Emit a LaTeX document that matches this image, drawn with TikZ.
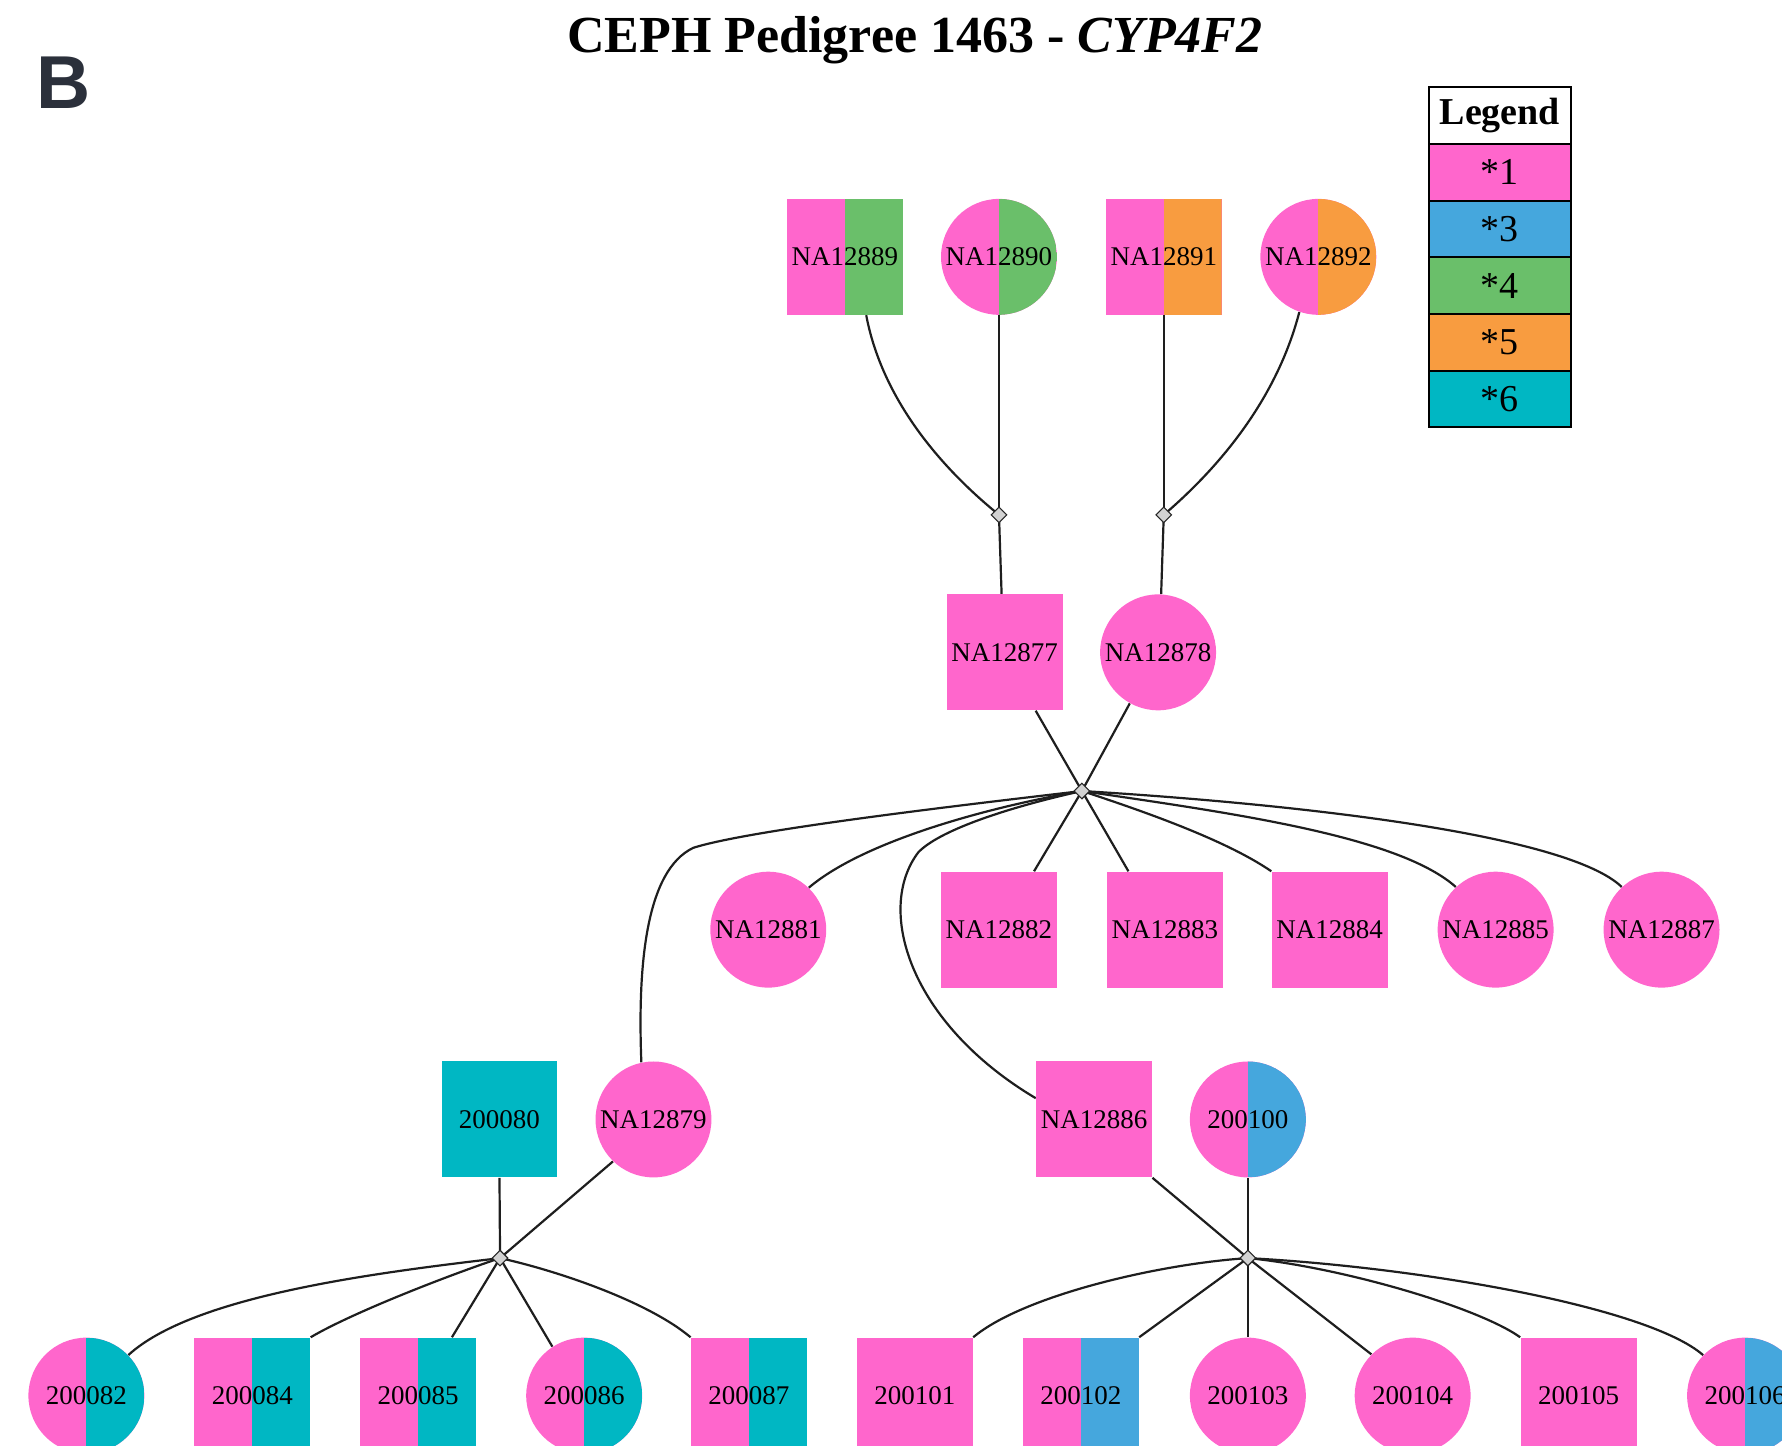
\documentclass[tikz,border=0pt]{standalone}
\usepackage{fontspec}
\setmainfont{Liberation Serif}
\newfontfamily\Bfont{Liberation Sans}
\usetikzlibrary{shapes.geometric}
\definecolor{pinkc}{HTML}{FF66CC}
\definecolor{bluec}{HTML}{45A7DD}
\definecolor{greenc}{HTML}{6ABF6A}
\definecolor{orangec}{HTML}{F89C40}
\definecolor{cyanc}{HTML}{00B7C3}
\definecolor{bcol}{HTML}{2B303B}
\definecolor{linec}{HTML}{1E1E1E}
\pgfdeclarelayer{bg}
\pgfsetlayers{bg,main}
\tikzset{
  lab/.style={font=\fontsize{13.5}{14}\selectfont, text=black, inner sep=0pt},
  sq/.style={lab, rectangle, minimum width=57.96pt, minimum height=57.96pt, fill=#1},
  ci/.style={lab, circle, minimum size=57.96pt, fill=#1},
  half/.style={path picture={\fill[#1] (path picture bounding box.south) rectangle (path picture bounding box.north east);}},
  dia/.style={diamond, draw=black!85, fill=gray!35, line width=0.55pt, inner sep=0pt, minimum width=8pt, minimum height=8pt},
  edge/.style={line width=1.1pt, draw=linec},
  leg/.style={rectangle, draw=black, line width=1pt, minimum width=70.8pt, minimum height=28.34pt, inner sep=0pt, font=\fontsize{19}{20}\selectfont, fill=#1},
}
\begin{document}
\begin{tikzpicture}[x=0.56825pt, y=-0.56825pt]
\useasboundingbox (0,0) rectangle (1568,1272);
\clip (0,0) rectangle (1568,1272);

% panel letter and title
\node[font=\Bfont\bfseries\fontsize{37.5}{37}\selectfont, text=bcol, inner sep=0pt] (panelB) at (56,73) {B};
\node[anchor=base, inner sep=0pt, font=\fontsize{26}{28}\selectfont] (title) at (805,46) {\textbf{CEPH Pedigree 1463 - \textit{CYP4F2}}};

% legend
\node[leg=white] (lg0) at (1319.7,101.75) {\textbf{Legend}};
\node[leg=pinkc] (lg1) at (1319.7,151.65) {*1};
\node[leg=bluec] (lg3) at (1319.7,201.5) {*3};
\node[leg=greenc] (lg4) at (1319.7,251.35) {*4};
\node[leg=orangec] (lg5) at (1319.7,301.25) {*5};
\node[leg=cyanc] (lg6) at (1319.7,351.1) {*6};

% generation 1
\node[sq=pinkc, half=greenc] (n12889) at (743.5,226) {NA12889};
\node[ci=pinkc, half=greenc] (n12890) at (879,226) {NA12890};
\node[sq=pinkc, half=orangec] (n12891) at (1024,226) {NA12891};
\node[ci=pinkc, half=orangec] (n12892) at (1160,226) {NA12892};
\node[dia] (d1) at (879,453) {};
\node[dia] (d2) at (1024,453) {};

% generation 2
\node[sq=pinkc] (n12877) at (884,574) {NA12877};
\node[ci=pinkc] (n12878) at (1019,574) {NA12878};
\node[dia] (d3) at (952,696) {};

% generation 3
\node[ci=pinkc] (n12881) at (676,818) {NA12881};
\node[sq=pinkc] (n12882) at (879,818) {NA12882};
\node[sq=pinkc] (n12883) at (1025,818) {NA12883};
\node[sq=pinkc] (n12884) at (1170,818) {NA12884};
\node[ci=pinkc] (n12885) at (1316,818) {NA12885};
\node[ci=pinkc] (n12887) at (1462,818) {NA12887};

\node[sq=cyanc] (n200080) at (439.5,985) {200080};
\node[ci=pinkc] (n12879) at (575,985) {NA12879};
\node[sq=pinkc] (n12886) at (962.7,985) {NA12886};
\node[ci=pinkc, half=bluec] (n200100) at (1098,985) {200100};
\node[dia] (d4) at (440,1107) {};
\node[dia] (d5) at (1098,1107) {};

% generation 4
\node[ci=pinkc, half=cyanc] (n200082) at (76,1228) {200082};
\node[sq=pinkc, half=cyanc] (n200084) at (222,1228) {200084};
\node[sq=pinkc, half=cyanc] (n200085) at (368,1228) {200085};
\node[ci=pinkc, half=cyanc] (n200086) at (514,1228) {200086};
\node[sq=pinkc, half=cyanc] (n200087) at (659,1228) {200087};
\node[sq=pinkc] (n200101) at (805,1228) {200101};
\node[sq=pinkc, half=bluec] (n200102) at (951,1228) {200102};
\node[ci=pinkc] (n200103) at (1098,1228) {200103};
\node[ci=pinkc] (n200104) at (1243,1228) {200104};
\node[sq=pinkc] (n200105) at (1389,1228) {200105};
\node[ci=pinkc, half=bluec] (n200106) at (1535.5,1228) {200106};

\begin{pgfonlayer}{bg}
% parents of NA12877 / NA12878
\draw[edge] (n12889.-70) .. controls (775,345) and (820,405) .. (d1.center);
\draw[edge] (n12890.south) -- (d1.center);
\draw[edge] (n12891.south) -- (d2.center);
\draw[edge] (n12892.251) .. controls (1125,345) and (1080,405) .. (d2.center);
\draw[edge] (d1.center) -- (n12877.93);
\draw[edge] (d2.center) -- (n12878.87);
\draw[edge] (n12877.-62) -- (d3.center);
\draw[edge] (n12878.241) -- (d3.center);

% children of NA12877 x NA12878
\draw[edge] (d3.center) .. controls (850,708) and (660,730) .. (610,746) .. controls (568,766) and (561,850) .. (n12879.102);
\draw[edge] (d3.center) .. controls (870,710) and (760,740) .. (n12881.46);
\draw[edge] (d3.center) -- (n12882.59);
\draw[edge] (d3.center) -- (n12883.122);
\draw[edge] (d3.center) .. controls (1010,715) and (1080,740) .. (n12884.north west);
\draw[edge] (d3.center) .. controls (1080,715) and (1230,735) .. (n12885.133);
\draw[edge] (d3.center) .. controls (1150,708) and (1380,735) .. (n12887.133);
\draw[edge] (d3.center) .. controls (880,712) and (825,732) .. (808,750) .. controls (770,800) and (800,900) .. (n12886.160);

% third generation couples
\draw[edge] (n200080.south) -- (d4.center);
\draw[edge] (n12879.226) -- (d4.center);
\draw[edge] (n12886.south east) -- (d5.center);
\draw[edge] (n200100.south) -- (d5.center);

% children of 200080 x NA12879
\draw[edge] (d4.center) .. controls (330,1120) and (170,1140) .. (n200082.44);
\draw[edge] (d4.center) .. controls (395,1122) and (310,1155) .. (n200084.north east);
\draw[edge] (d4.center) -- (n200085.60);
\draw[edge] (d4.center) -- (n200086.123);
\draw[edge] (d4.center) .. controls (490,1118) and (570,1145) .. (n200087.north west);

% children of NA12886 x 200100
\draw[edge] (d5.center) .. controls (1020,1112) and (900,1140) .. (n200101.north east);
\draw[edge] (d5.center) -- (n200102.north east);
\draw[edge] (d5.center) -- (n200103.north);
\draw[edge] (d5.center) -- (n200104.135);
\draw[edge] (d5.center) .. controls (1180,1115) and (1300,1150) .. (n200105.north west);
\draw[edge] (d5.center) .. controls (1250,1115) and (1450,1150) .. (n200106.136);
\end{pgfonlayer}
\end{tikzpicture}
\end{document}
